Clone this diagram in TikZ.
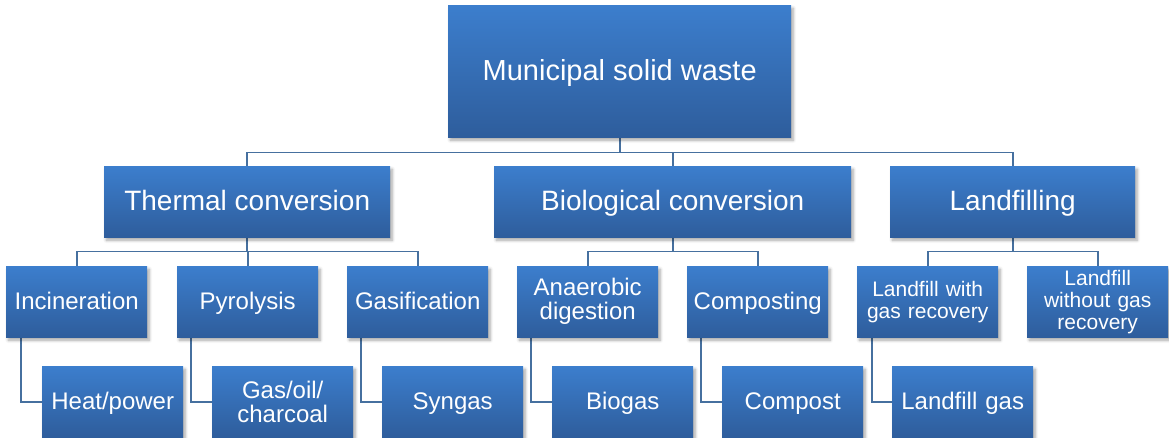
\documentclass[tikz,border=0pt]{standalone}
\usepackage{fontspec}
\setmainfont{Liberation Sans}
\usetikzlibrary{shadows.blur,backgrounds}
\definecolor{boxtop}{HTML}{3C7ECD}
\definecolor{boxbot}{HTML}{2E5D9C}
\definecolor{conn}{HTML}{46709F}
\tikzset{
  box/.style={anchor=north west, inner sep=2pt, align=center, text=white,
    top color=boxtop, bottom color=boxbot, draw=none,
    blur shadow={shadow xshift=2pt, shadow yshift=-3pt, shadow blur radius=3pt, shadow blur steps=6, shadow opacity=35}},
  big/.style={box, font=\fontsize{28}{30}\selectfont, text height=22pt, text depth=4pt},
  mid/.style={box, font=\fontsize{24}{24}\selectfont, minimum width=141pt, minimum height=71pt, text width=136pt},
  one/.style={mid, text height=19pt, text depth=3pt},
  small/.style={box, font=\fontsize{21}{22}\selectfont, minimum width=141pt, minimum height=71pt, text width=136pt},
  link/.style={draw=conn, line width=1.7pt}
}
\begin{document}
\begin{tikzpicture}[x=1pt,y=-1pt]
\useasboundingbox (0,0) rectangle (1169,438);
% level 1
\node[big, font=\fontsize{29}{31}\selectfont, minimum width=343pt, minimum height=132pt] (root) at (448,5) {Municipal solid waste};
% level 2
\node[big, minimum width=286pt, minimum height=71pt] (thermal) at (104,166) {Thermal conversion};
\node[big, minimum width=357pt, minimum height=71pt] (bio) at (494,166) {Biological conversion};
\node[big, minimum width=245pt, minimum height=71pt] (land) at (890,166) {Landfilling};
% level 3
\node[one] (inc) at (6,266) {Incineration};
\node[one] (pyr) at (177,266) {Pyrolysis};
\node[one] (gas) at (347,266) {Gasification};
\node[mid] (ana) at (517,266) {Anaerobic\\digestion};
\node[one] (comp) at (687,266) {Composting};
\node[small] (lfw) at (857,266) {Landfill with\\gas recovery};
\node[small] (lfwo) at (1027,266) {Landfill\\without gas\\recovery};
% level 4
\node[one] (heat) at (42,366) {Heat/power};
\node[mid] (goc) at (212,366) {Gas/oil/\\charcoal};
\node[one] (syn) at (382,366) {Syngas};
\node[one] (biog) at (552,366) {Biogas};
\node[one] (cpst) at (722,366) {Compost};
\node[one] (lfg) at (892,366) {Landfill gas};
\begin{scope}[on background layer]
\foreach \c in {thermal,bio,land}
  \draw[link] (root.south) -- ++(0,15) -| (\c.north);
\foreach \c in {inc,pyr,gas}
  \draw[link] (thermal.south) -- ++(0,14) -| (\c.north);
\foreach \c in {ana,comp}
  \draw[link] (bio.south) -- ++(0,14) -| (\c.north);
\foreach \c in {lfw,lfwo}
  \draw[link] (land.south) -- ++(0,14) -| (\c.north);
\draw[link] ([xshift=15pt]inc.south west) |- (heat.west);
\draw[link] ([xshift=14pt]pyr.south west) |- (goc.west);
\draw[link] ([xshift=14pt]gas.south west) |- (syn.west);
\draw[link] ([xshift=14pt]ana.south west) |- (biog.west);
\draw[link] ([xshift=14pt]comp.south west) |- (cpst.west);
\draw[link] ([xshift=15pt]lfw.south west) |- (lfg.west);
\end{scope}
\end{tikzpicture}
\end{document}
